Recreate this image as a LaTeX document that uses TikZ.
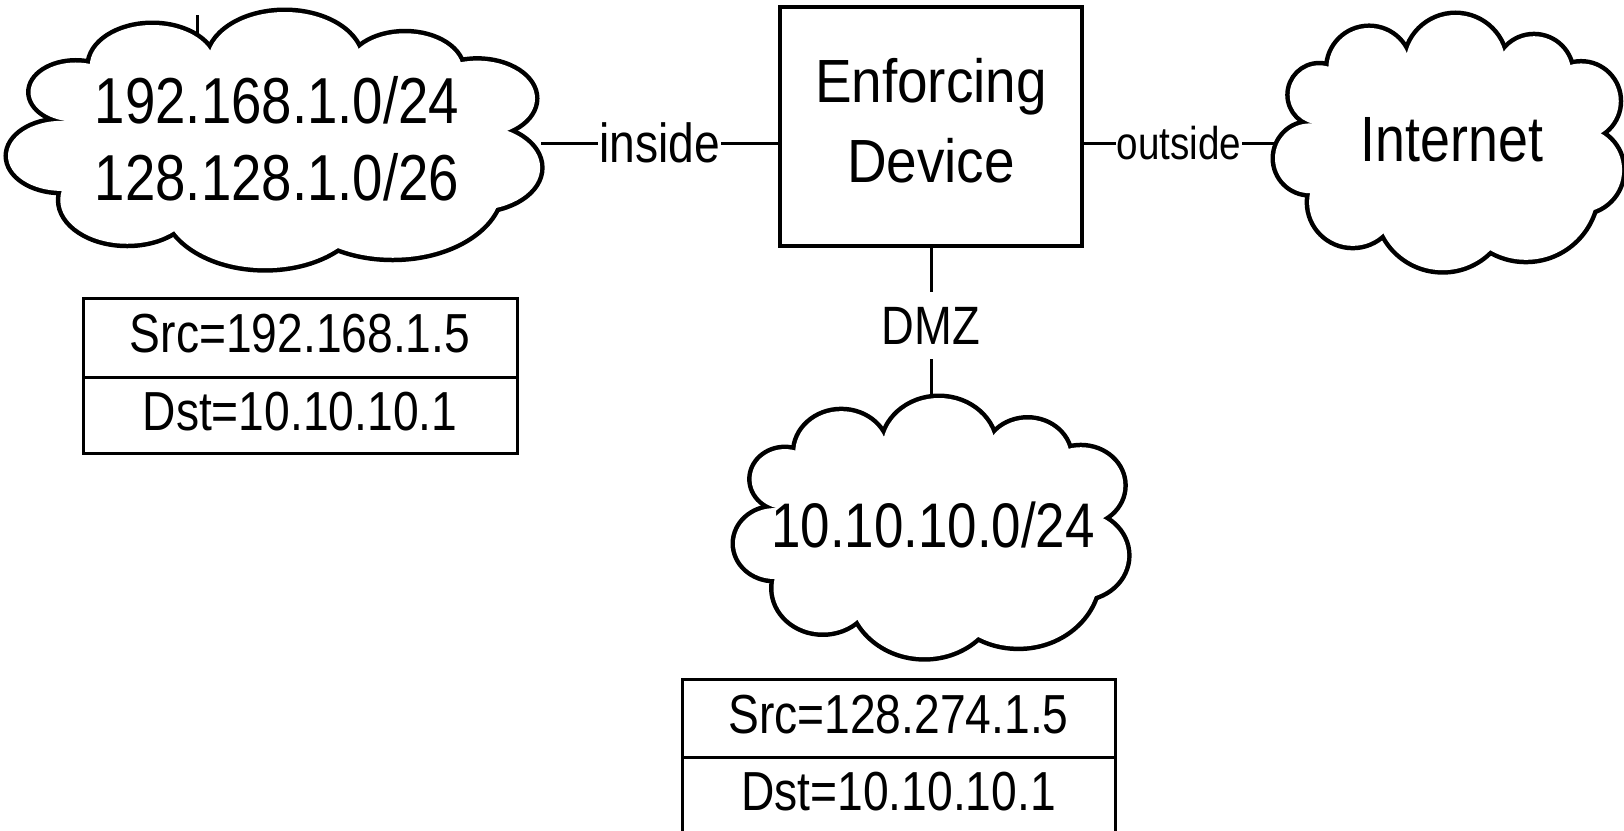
\documentclass[tikz,border=0pt]{standalone}
\usepackage{fontspec}
\setmainfont{Liberation Sans}[FakeStretch=0.84]
\newfontfamily\boxfont{Liberation Sans}[FakeStretch=0.9]
\tikzset{
  conn/.style={line width=3pt},
  puffline/.style={line width=9pt, draw=black},
  devbox/.style={draw, line width=3.2pt, minimum width=302pt, minimum height=239pt, inner sep=0pt, align=center},
  cell/.style={draw, line width=3pt, inner sep=0pt, text height=39.4pt, text depth=9pt, font=\fontsize{55}{60}\selectfont},
  lbl/.style={fill=white, inner xsep=1pt, inner ysep=0pt},
  bigtxt/.style={inner sep=0pt, align=center},
}
% cloud = union of puffs; outline = outer half of thick strokes
\newcommand\puffs{44.2/79.8/29.5, 94.1/53.7/40.75, 180.5/50/50, 259/58.5/37.3, 306.1/86.1/37.65,
  304.8/155.1/42.3, 250.9/174/70.8, 167.7/189.1/66.1, 77.75/187.2/43.65, 34.9/143.3/34.9}
\newcommand\drawcloud[4]{%
  \begin{scope}[shift={(#1,#2)},xscale={#3/347},yscale={#4/255}]
    \foreach \cx/\cy/\r in \puffs {\draw[puffline] (\cx,\cy) ellipse [x radius=\r, y radius=\r];}
    \foreach \cx/\cy/\r in \puffs {\fill[white] (\cx,\cy) ellipse [x radius=\r, y radius=\r];}
    \fill[white] (36.8,108.4) -- (53.4,51.8) -- (131.9,38.3) -- (228.7,36.7) -- (295.3,50) --
      (325.5,118.3) -- (318.5,195.1) -- (215.1,235.1) -- (108.4,218.3) -- (35,178.2) -- cycle;
  \end{scope}}
\begin{document}
\begin{tikzpicture}[x=1pt,y=-1pt]
  \fill[white] (0,0) rectangle (1624,830);
  \useasboundingbox (0,0) rectangle (1624,830);

  % enforcing device
  \node[devbox, font=\boxfont\fontsize{61}{80}\selectfont] (box) at (931,126.5) {Enforcing\\Device\rule[-11.5pt]{0pt}{0pt}};

  % connector end points
  \coordinate (lcE) at (541,143);
  \coordinate (icW) at (1282,143);
  \coordinate (dcN) at (931,410);
  \coordinate (tickA) at (197,15);
  \coordinate (tickB) at (197,55);

  % connectors
  \draw[conn] (tickA) -- (tickB);
  \draw[conn] (lcE) -- node[lbl, font=\fontsize{55}{60}\selectfont] (inlbl) {inside} (lcE -| box.west);
  \draw[conn] (icW -| box.east) -- node[lbl, pos=0.48, font=\fontsize{46}{50}\selectfont] (outlbl) {outside} (icW);
  \draw[conn] (box.south) -- node[lbl, pos=0.48, inner ysep=15pt, font=\fontsize{54}{60}\selectfont] (dmzlbl) {DMZ} (dcN);

  % clouds
  \drawcloud{8}{12}{532}{256}
  \drawcloud{1275}{15}{347}{255}
  \drawcloud{735}{398}{392}{259}

  % cloud texts
  \node[bigtxt, font=\fontsize{65}{77}\selectfont] (lctxt) at (277,138.3) {192.168.1.0/24\\128.128.1.0/26};
  \node[inner sep=0pt, anchor=base, font=\fontsize{64}{70}\selectfont] (ictxt) at (1452,161) {Internet};
  \node[inner sep=0pt, anchor=base, font=\fontsize{63}{70}\selectfont] (dctxt) at (933,547) {10.10.10.0/24};

  % packet tables
  \node[cell, minimum width=434pt, minimum height=79pt] (lsrc) at (300,337.5) {Src=192.168.1.5};
  \node[cell, minimum width=434pt, minimum height=76pt] (ldst) at (300,415) {Dst=10.10.10.1};
  \node[cell, minimum width=433pt, minimum height=78pt] (bsrc) at (898.5,718) {Src=128.274.1.5};
  \node[cell, minimum width=433pt, minimum height=76pt] (bdst) at (898.5,795) {Dst=10.10.10.1};
\end{tikzpicture}
\end{document}
